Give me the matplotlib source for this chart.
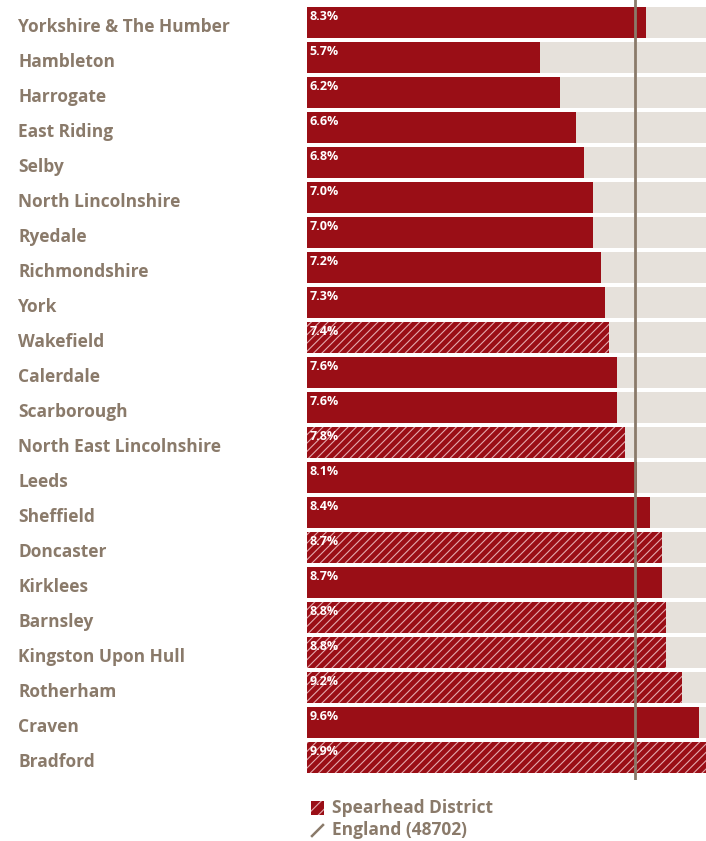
import matplotlib.pyplot as plt
import matplotlib.transforms as mtransforms
from matplotlib.patches import Rectangle
from matplotlib.lines import Line2D

plt.rcParams['font.family'] = ['Open Sans', 'DejaVu Sans']
plt.rcParams['hatch.linewidth'] = 0.8

areas = ["Yorkshire & The Humber", "Hambleton", "Harrogate", "East Riding", "Selby",
         "North Lincolnshire", "Ryedale", "Richmondshire", "York", "Wakefield",
         "Calerdale", "Scarborough", "North East Lincolnshire", "Leeds", "Sheffield",
         "Doncaster", "Kirklees", "Barnsley", "Kingston Upon Hull", "Rotherham",
         "Craven", "Bradford"]
values = [8.3, 5.7, 6.2, 6.6, 6.8, 7.0, 7.0, 7.2, 7.3, 7.4, 7.6, 7.6, 7.8, 8.1,
          8.4, 8.7, 8.7, 8.8, 8.8, 9.2, 9.6, 9.9]
spearhead = ["Wakefield", "North East Lincolnshire", "Doncaster", "Barnsley",
             "Kingston Upon Hull", "Rotherham", "Bradford"]
england = 8.05
england_label = "England (48702)"

red = '#9a0e16'
bg = '#e6e1db'
brown = '#8a7a6a'
hatch_col = '#e4a9ae'
xmax = 9.78

W, H = 706, 841
fig = plt.figure(figsize=(W / 100, H / 100), dpi=100)
# axes from x=307 to 706 px, y=0 to 780 px
ax = fig.add_axes([307 / W, 1 - 780 / H, 1 - 307 / W, 780 / H])
ax.set_xlim(0, xmax)
ax.set_ylim((780 - 22.5) / 35, -22.5 / 35)
ax.axis('off')

ys = list(range(len(areas)))
ax.barh(ys, [xmax] * len(areas), height=0.886, color=bg, linewidth=0)
for y, name, v in zip(ys, areas, values):
    if name in spearhead:
        ax.barh(y, v, height=0.886, color=red, edgecolor=hatch_col, hatch='////', linewidth=0)
    else:
        ax.barh(y, v, height=0.886, color=red, linewidth=0)
    ax.text(0.07, y - 0.36, f"{v:.1f}%", color='white', fontsize=9, fontweight='bold',
            va='top', ha='left')

trans = mtransforms.blended_transform_factory(fig.transFigure, ax.transData)
for y, name in zip(ys, areas):
    ax.text(18 / W, y + 0.13, name, transform=trans, color=brown, fontsize=12.5,
            fontweight='bold', va='center', ha='left', clip_on=False)

ax.axvline(england, color=brown, linewidth=2)

# legend
fig.patches.append(Rectangle((311 / W, 1 - 815 / H), 13 / W, 14 / H, transform=fig.transFigure,
                             facecolor=red, edgecolor=hatch_col, hatch='///', linewidth=0))
fig.lines.append(Line2D([312 / W, 323 / W], [1 - 836 / H, 1 - 825 / H], transform=fig.transFigure,
                        color=brown, linewidth=1.8))
fig.text(332 / W, 1 - 808 / H, "Spearhead District", color=brown, fontsize=12.5,
         fontweight='bold', va='center', ha='left')
fig.text(332 / W, 1 - 830 / H, england_label, color=brown, fontsize=12.5,
         fontweight='bold', va='center', ha='left')

fig.savefig('out.png', dpi=100)
